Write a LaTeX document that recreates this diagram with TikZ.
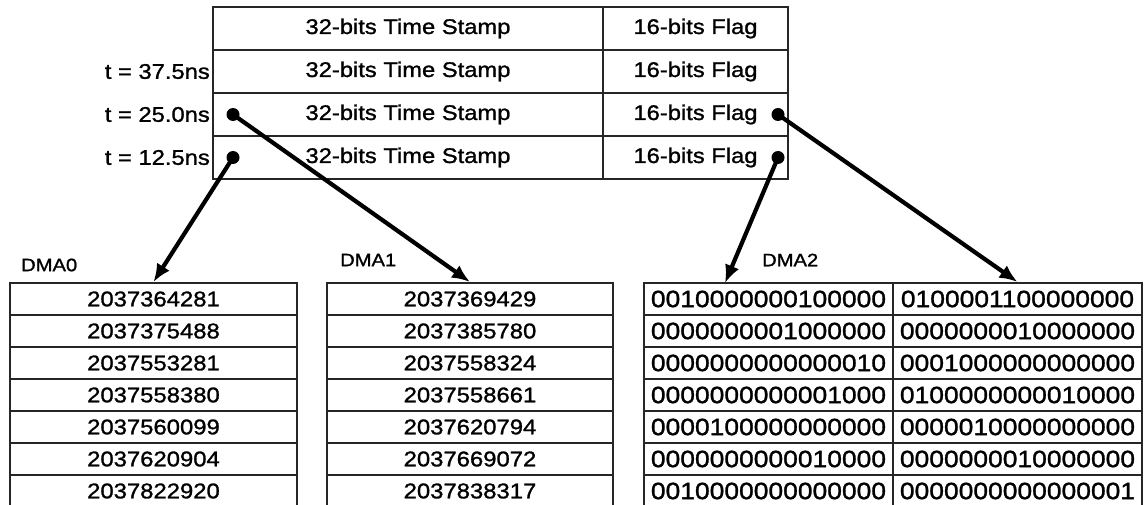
\documentclass[tikz,border=0pt]{standalone}
\usepackage{fontspec}
\setmainfont{Liberation Sans}
\newfontfamily\wsans[FakeStretch=1.12, FakeBold=1.2]{Liberation Sans}
\usetikzlibrary{arrows.meta}

\tikzset{
  cell/.style={draw=black!85, line width=2pt, inner sep=0pt, anchor=center},
  hdrcell/.style={cell, minimum height=43pt, font=\wsans\fontsize{21.2}{23}\selectfont},
  numcell/.style={cell, minimum height=32pt, font=\wsans\fontsize{21.3}{23}\selectfont},
  bincell/.style={cell, minimum height=32pt, minimum width=249pt, font=\wsans\fontsize{23.6}{25}\selectfont},
  tlabel/.style={anchor=east, inner sep=0pt, font=\wsans\fontsize{21.2}{23}\selectfont},
  dmalabel/.style={anchor=west, inner sep=0pt, font=\wsans\fontsize{18}{20}\selectfont},
  pin/.style={circle, fill=black, inner sep=0pt, minimum size=13pt},
  conn/.style={line width=4.2pt, -{Latex[length=18pt,width=15pt]}}
}

\begin{document}
\begin{tikzpicture}[x=1pt, y=-1pt]
\useasboundingbox (0,0) rectangle (1146,505);

% record layout: time stamp and flag fields
\foreach \i in {0,1,2,3} {
  \node[hdrcell, minimum width=390pt] (ts\i) at (408, 28.5+43*\i) {32-bits Time Stamp};
  \node[hdrcell, minimum width=185pt] (fl\i) at (695.5, 28.5+43*\i) {16-bits Flag};
}

% sample times
\node[tlabel] (t1) at (210, 71.5)  {t = 37.5ns};
\node[tlabel] (t2) at (210, 114.5) {t = 25.0ns};
\node[tlabel] (t3) at (210, 157.5) {t = 12.5ns};

% DMA buffers
\node[dmalabel] (l0) at (21, 265)  {DMA0};
\node[dmalabel] (l1) at (340, 260) {DMA1};
\node[dmalabel] (l2) at (762, 260) {DMA2};

\foreach \v [count=\i from 0] in {2037364281,2037375488,2037553281,2037558380,2037560099,2037620904,2037822920}
  \node[numcell, minimum width=287pt] (da\i) at (153.5, 299+32*\i) {\v};

\foreach \v [count=\i from 0] in {2037369429,2037385780,2037558324,2037558661,2037620794,2037669072,2037838317}
  \node[numcell, minimum width=286pt] (db\i) at (470, 299+32*\i) {\v};

\foreach \a/\b [count=\i from 0] in {
    0010000000100000/0100001100000000,
    0000000001000000/0000000010000000,
    0000000000000010/0001000000000000,
    0000000000001000/0100000000010000,
    0000100000000000/0000010000000000,
    0000000000010000/0000000010000000,
    0010000000000000/0000000000000001} {
  \node[bincell] (dc\i) at (768.5, 299+32*\i) {\a};
  \node[bincell] (dd\i) at (1017.5, 299+32*\i) {\b};
}

% field pick-off points
\node[pin] (pa) at (233, 114.5) {};
\node[pin] (pb) at (233, 157.5) {};
\node[pin] (pc) at (778, 114.5) {};
\node[pin] (pd) at (778, 157.5) {};
\coordinate (tipc) at (725, 283);

\draw[conn] (pb.center) -- (da0.north);
\draw[conn] (pa.center) -- (db0.north);
\draw[conn] (pd.center) -- (tipc);
\draw[conn] (pc.center) -- (dd0.north);
\end{tikzpicture}
\end{document}
